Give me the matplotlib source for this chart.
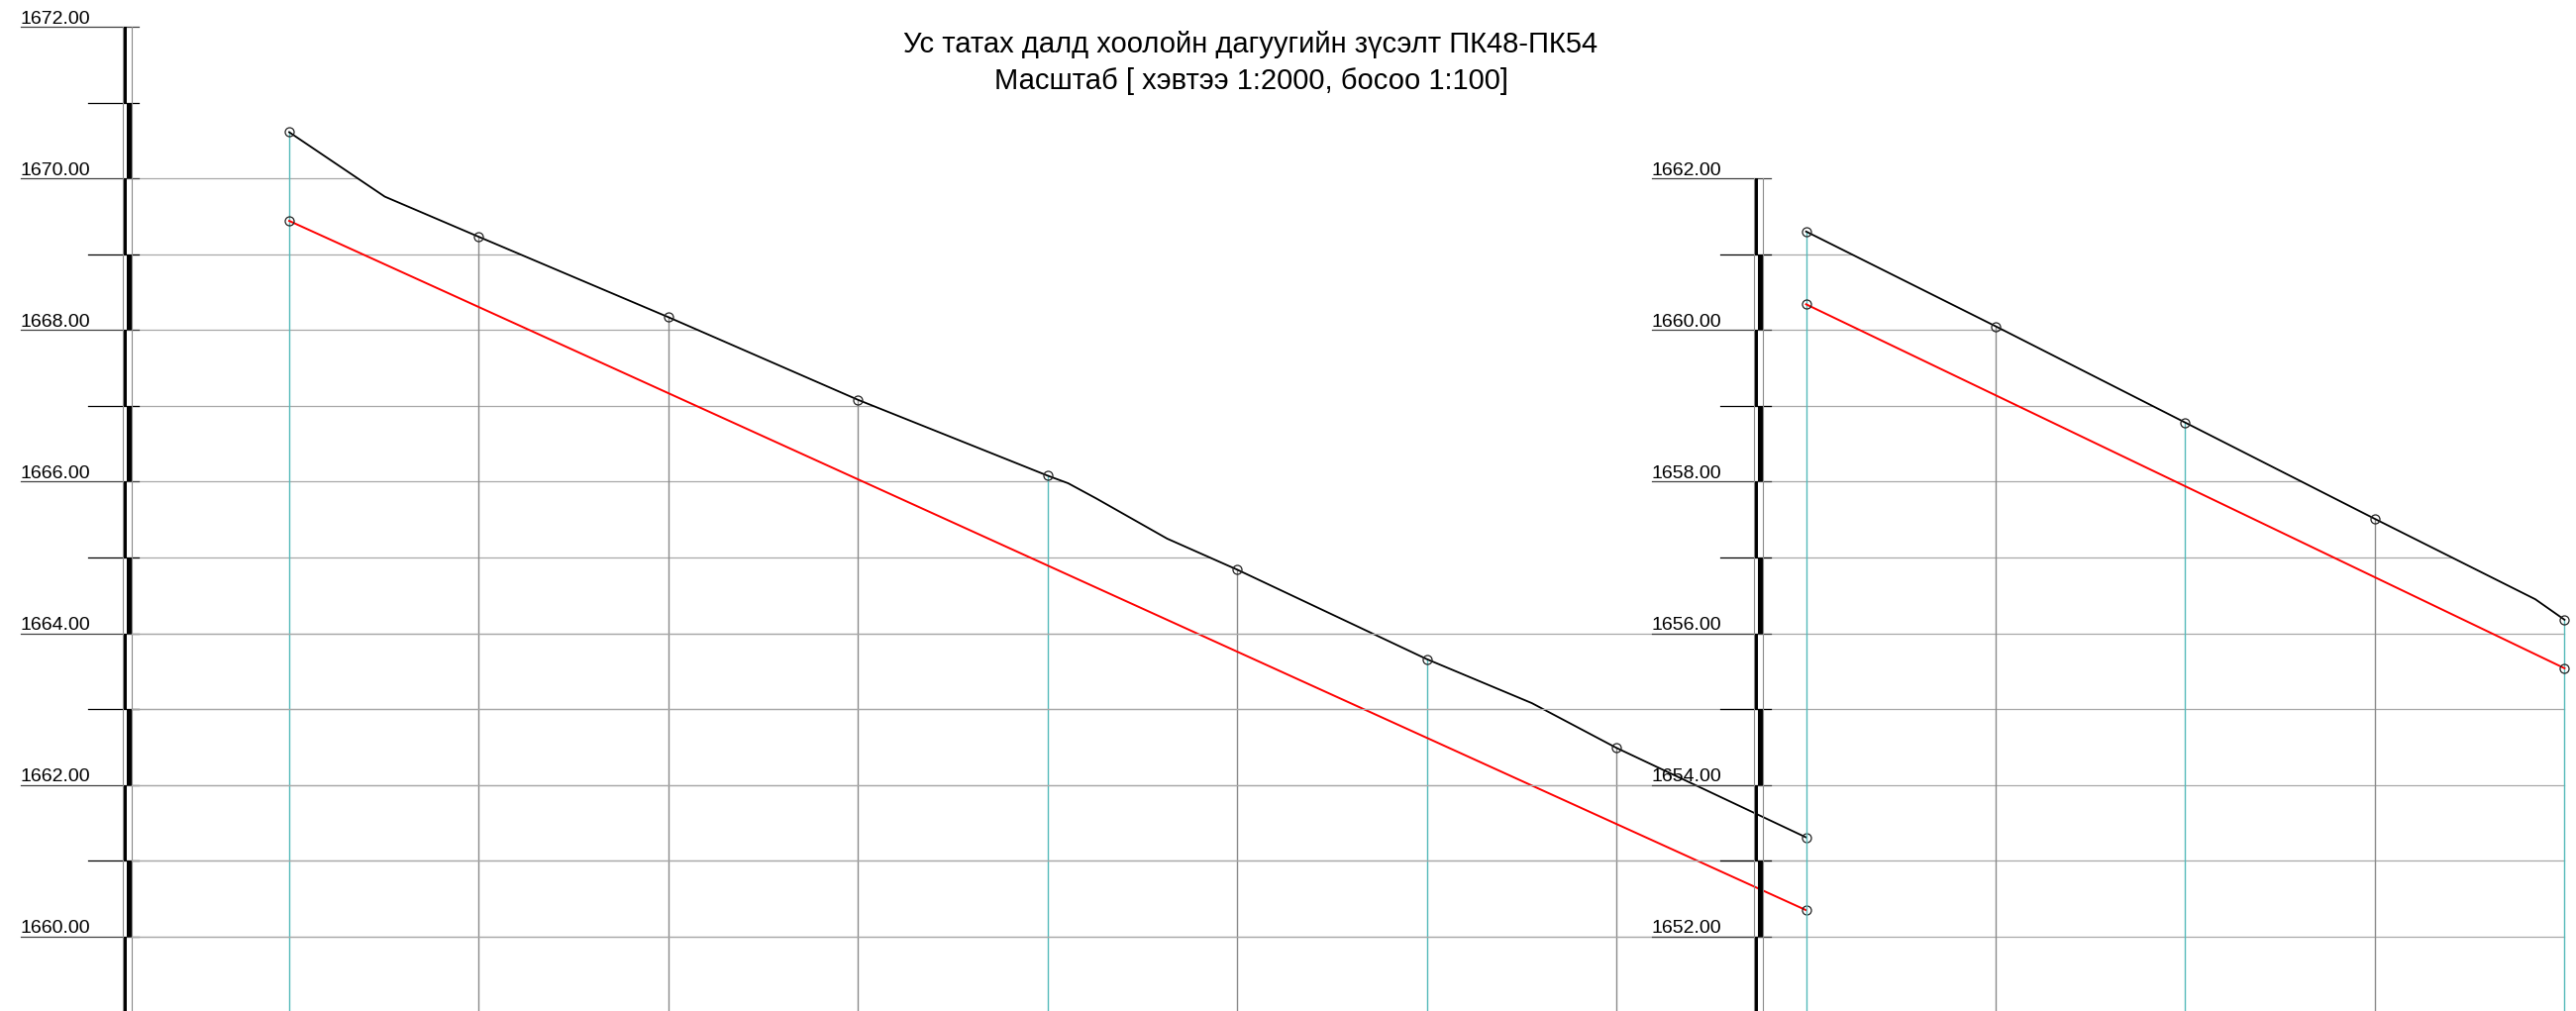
import matplotlib
matplotlib.use("Agg")
import matplotlib.pyplot as plt
from matplotlib.patches import Rectangle
import numpy as np

plt.rcParams['font.family'] = ['Liberation Sans', 'DejaVu Sans']

# ---- data: chainage in metres from ПК48, elevations in metres ----
stations = [0, 50, 100, 150, 200, 250, 300, 350, 400, 450, 500, 550, 600]
station_teal = [True, False, False, False, True, False, True, False, True, False, True, False, True]

left_ground_ch = [0, 25.2, 50, 100, 150, 200, 205.4, 212.8, 231.5, 250, 300, 327.7, 350, 400]
left_ground_h = [1670.61, 1669.76, 1669.23, 1668.17, 1667.08, 1666.08, 1665.98, 1665.78,
                 1665.25, 1664.84, 1663.66, 1663.08, 1662.49, 1661.31]
left_pipe_ch = [0, 400]
left_pipe_h = [1669.44, 1660.35]

right_ground_ch = [400, 450, 500, 550, 592.3, 600]
right_ground_h = [1661.30, 1660.05, 1658.78, 1657.51, 1656.45, 1656.18]
right_pipe_ch = [400, 600]
right_pipe_h = [1660.34, 1655.54]

left_labels = [1672, 1670, 1668, 1666, 1664, 1662, 1660]
right_labels = [1662, 1660, 1658, 1656, 1654, 1652]

title_lines = ["Ус татах далд хоолойн дагуугийн зүсэлт ПК48-ПК54",
               "Масштаб [ хэвтээ 1:2000, босоо 1:100]"]

# ---- layout (drawing units: chainage m / elevation m) ----
XLIM = (-76.26, 603.03)
YLIM_LEFT = (1659.02, 1672.353)
RIGHT_SHIFT = 8.0          # right section sits 8 m lower on the sheet
LEFT_GRID_START = -41.53
RIGHT_GRID_START = 388.61

GRID_C = '#a8a8a8'
TEAL = '#55baba'
VGRAY = '#8a8a8a'


def draw_scale(ax, top, x_lab, x_minor, x_a, x_b, x_end, labels, bottom):
    """Vertical elevation scale with alternating thick bar, ticks and labels."""
    mid = (x_a + x_b) / 2
    h = top
    i = 0
    while h > bottom:
        x0 = x_a if i % 2 == 0 else mid
        ax.add_patch(Rectangle((x0, h - 1), mid - x_a, 1, facecolor='black',
                               edgecolor='none', zorder=4))
        h -= 1
        i += 1
    ax.plot([x_a, x_a], [bottom, top], color='#8a8a8a', lw=0.8, zorder=4)
    ax.plot([x_b, x_b], [bottom, top], color='#8a8a8a', lw=0.8, zorder=4)
    for v in range(int(np.ceil(bottom)), int(top) + 1):
        if v in labels:
            ax.plot([x_lab, x_end], [v, v], color='#404040', lw=0.9, zorder=3)
            ax.annotate(f"{v:.2f}", xy=(x_lab, v), xytext=(0, 2.5), textcoords='offset points',
                        ha='left', va='baseline', fontsize=14, color='black', zorder=5)
        else:
            ax.plot([x_minor, x_end], [v, v], color='black', lw=0.9, zorder=3)


def draw_grid(ax, x_start, ground_ch, ground_h, top, bottom, x_full=None):
    """Horizontal grid under the ground line (each line stops where it meets the ground).
    Lines lying fully under the ground start at x_full when given."""
    gch = np.array(ground_ch)
    gh = np.array(ground_h)
    for v in range(int(np.ceil(bottom)), int(top) + 1):
        if v >= gh[0]:
            continue
        x0 = x_start
        if v <= gh.min():
            x_end = gch[-1]
            if x_full is not None:
                x0 = x_full
        else:
            x_end = np.interp(v, gh[::-1], gch[::-1])
        ax.plot([x0, x_end], [v, v], color=GRID_C, lw=0.9, zorder=1)


def draw_section(ax, ground_ch, ground_h, pipe_ch, pipe_h, st, teal, bottom):
    gch = np.array(ground_ch)
    gh = np.array(ground_h)
    st_h = np.interp(st, gch, gh)
    for s, hh, t in zip(st[:len(teal)], st_h, teal):
        ax.plot([s, s], [bottom, hh], color=TEAL if t else VGRAY, lw=1.0, zorder=2)
    ax.plot(gch, gh, color='black', lw=1.3, zorder=6)
    ax.plot(pipe_ch, pipe_h, color='#ff0000', lw=1.4, zorder=6)
    ax.plot(st, st_h, 'o', ms=6.5, mfc='none', mec='#222222', mew=0.9, zorder=7)
    ax.plot([pipe_ch[0], pipe_ch[-1]], [pipe_h[0], pipe_h[-1]], 'o', ms=6.5,
            mfc='none', mec='#222222', mew=0.9, zorder=7)


fig = plt.figure(figsize=(26.01, 10.21), dpi=100)
ax = fig.add_axes([0, 0, 1, 1])
ax2 = fig.add_axes([0, 0, 1, 1])
for a in (ax, ax2):
    a.set_xlim(*XLIM)
    a.axis('off')
ax.set_ylim(*YLIM_LEFT)
ax2.set_ylim(YLIM_LEFT[0] - RIGHT_SHIFT, YLIM_LEFT[1] - RIGHT_SHIFT)
ax2.patch.set_visible(False)

n_left = 8
left_st = stations[:n_left + 1]     # station 400 closes the left section
right_st = stations[n_left:]

# left section (the vertical at 400 is drawn with the right section)
draw_grid(ax, LEFT_GRID_START, left_ground_ch, left_ground_h, 1672, YLIM_LEFT[0])
draw_scale(ax, 1672, -70.78, -53.02, -43.88, LEFT_GRID_START, -39.70, left_labels, YLIM_LEFT[0])
draw_section(ax, left_ground_ch, left_ground_h, left_pipe_ch, left_pipe_h,
             left_st, station_teal[:n_left], YLIM_LEFT[0])

# right section
rb = YLIM_LEFT[0] - RIGHT_SHIFT
draw_grid(ax2, RIGHT_GRID_START, right_ground_ch, right_ground_h, 1662, rb, x_full=LEFT_GRID_START)
draw_scale(ax2, 1662, 359.36, 377.38, 386.26, RIGHT_GRID_START, 390.70, right_labels, rb)
draw_section(ax2, right_ground_ch, right_ground_h, right_pipe_ch, right_pipe_h,
             right_st, station_teal[n_left:], rb)

fig.text(1263 / 2601, 1 - 45 / 1021, title_lines[0], ha='center', va='center', fontsize=21)
fig.text(1263 / 2601, 1 - 82 / 1021, title_lines[1], ha='center', va='center', fontsize=21)

fig.savefig("out.png", dpi=100, facecolor='white')
